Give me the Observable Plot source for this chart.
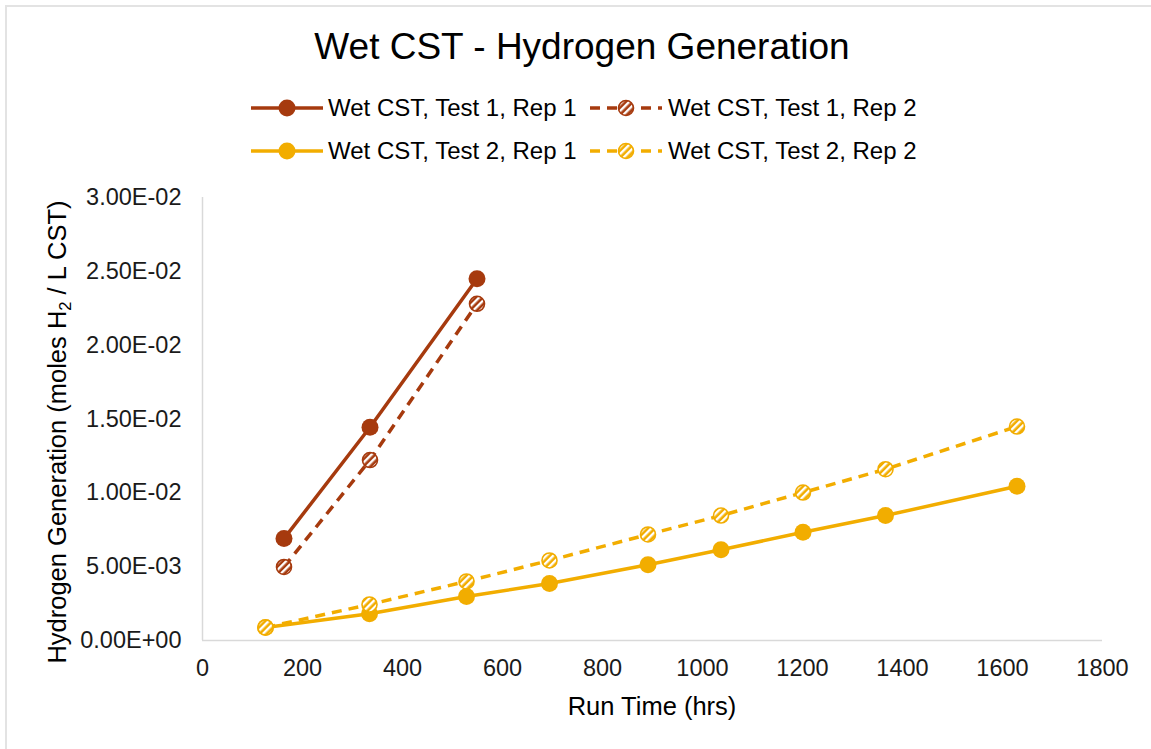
<!DOCTYPE html>
<html>
<head>
<meta charset="utf-8">
<script src="https://cdn.jsdelivr.net/npm/d3@7"></script>
<script src="https://cdn.jsdelivr.net/npm/@observablehq/plot@0.6"></script>
<style>
  html, body { margin: 0; padding: 0; background: #fff; overflow: hidden; }
  body { width: 1151px; height: 749px; position: relative; font-family: "Liberation Sans", Arial, sans-serif; color: #000; }
  #frame { position: absolute; left: 5px; top: 5px; width: 1220px; height: 820px; border: 2px solid #e3e3e3; box-sizing: border-box; }
  #title { position: absolute; left: 0; width: 1164px; top: 28px; text-align: center; font-size: 37px; line-height: 1; white-space: nowrap; }
  .leg-text { position: absolute; font-size: 24px; line-height: 1; white-space: nowrap; }
  .leg-sw { position: absolute; }
  #chart { position: absolute; left: 0; top: 180px; }
</style>
</head>
<body>
<div id="frame"></div>
<div id="title">Wet CST - Hydrogen Generation</div>
<div id="legend"></div>
<div id="chart"></div>
<script>
// ---- data ----
const seriesNames = ["Wet CST, Test 1, Rep 1", "Wet CST, Test 1, Rep 2", "Wet CST, Test 2, Rep 1", "Wet CST, Test 2, Rep 2"];
const seriesColors = ["#A63A0E", "#A63A0E", "#F2AD00", "#F2AD00"];
const seriesDashed = [false, true, false, true];

const test1Hours = [163, 335, 549];
const test1Rep1 = [0.0069, 0.01444, 0.0245];
const test1Rep2 = [0.00498, 0.01222, 0.0228];

const test2Hours = [126, 334, 528, 694, 891, 1037, 1201, 1366, 1629];
const test2Rep1 = [0.00088, 0.00181, 0.00298, 0.00386, 0.00513, 0.00614, 0.00733, 0.00846, 0.01045];
const test2Rep2 = [0.00088, 0.00244, 0.0040, 0.00542, 0.00718, 0.00846, 0.01002, 0.0116, 0.01449];

const xTicks = [0, 200, 400, 600, 800, 1000, 1200, 1400, 1600, 1800];
const yTicks = [0, 0.005, 0.01, 0.015, 0.02, 0.025, 0.03];
const yTickLabels = ["0.00E+00", "5.00E-03", "1.00E-02", "1.50E-02", "2.00E-02", "2.50E-02", "3.00E-02"];

const xTitle = "Run Time (hrs)";

// ---- build tables ----
const seriesHours = [test1Hours, test1Hours, test2Hours, test2Hours];
const seriesValues = [test1Rep1, test1Rep2, test2Rep1, test2Rep2];
const seriesRows = seriesNames.map((name, i) =>
  seriesHours[i].map((h, j) => ({series: name, hours: h, value: seriesValues[i][j]}))
);

const font = "'Liberation Sans', Arial, sans-serif";

const marks = [
  Plot.ruleY([0], {stroke: "#d9d9d9", strokeWidth: 1.5}),
  Plot.ruleX([0], {stroke: "#d9d9d9", strokeWidth: 1.5}),
  Plot.axisX({ticks: xTicks, tickSize: 0, tickPadding: 19, label: null, tickFormat: d => String(d)}),
  Plot.axisY({ticks: yTicks, tickSize: 0, tickPadding: 21, label: null, tickFormat: (d, i) => yTickLabels[yTicks.indexOf(d)]})
];
seriesRows.forEach((rows, i) => {
  const c = seriesColors[i];
  marks.push(Plot.line(rows, {
    x: "hours", y: "value", stroke: c, strokeWidth: 3.5,
    strokeDasharray: seriesDashed[i] ? "10,7" : null, strokeLinecap: "butt"
  }));
  if (seriesDashed[i]) {
    marks.push(Plot.dot(rows, {x: "hours", y: "value", r: 7.5, fill: `url(#pat${i})`, stroke: c, strokeWidth: 1.6}));
  } else {
    marks.push(Plot.dot(rows, {x: "hours", y: "value", r: 8.5, fill: c, stroke: "none"}));
  }
});

const svg = Plot.plot({
  width: 1151,
  height: 569,
  marginTop: 17,
  marginBottom: 109,
  marginLeft: 202,
  marginRight: 49,
  style: {fontFamily: font, fontSize: "23.5px", color: "#1a1a1a", background: "transparent", overflow: "visible"},
  x: {domain: [0, 1800]},
  y: {domain: [0, 0.03]},
  marks
});

// patterns for the hatched markers
const defs = d3.select(svg).insert("defs", ":first-child");
seriesColors.forEach((c, i) => {
  const p = defs.append("pattern")
    .attr("id", `pat${i}`)
    .attr("patternUnits", "userSpaceOnUse")
    .attr("width", 5).attr("height", 5)
    .attr("patternTransform", "rotate(45)");
  p.append("rect").attr("width", 5).attr("height", 5).attr("fill", c);
  p.append("rect").attr("width", 2.4).attr("height", 5).attr("fill", "#fff");
});

// axis titles
const s = d3.select(svg);
s.append("text")
  .attr("x", 652).attr("y", 526).attr("dy", "0.35em")
  .attr("text-anchor", "middle")
  .attr("font-size", "25.5px").attr("fill", "#000")
  .text(xTitle);
const yt = s.append("text")
  .attr("transform", "translate(57,252) rotate(-90)")
  .attr("dy", "0.35em")
  .attr("text-anchor", "middle")
  .attr("font-size", "25.5px").attr("fill", "#000");
yt.append("tspan").text("Hydrogen Generation (moles H");
yt.append("tspan").attr("font-size", "0.65em").attr("dy", "0.3em").text("2");
yt.append("tspan").attr("dy", "-0.2em").text(" / L CST)");

document.getElementById("chart").appendChild(svg);

// legend
const legend = d3.select("#legend");
const legPos = [
  {sx: 251, tx: 328, cy: 108},
  {sx: 590, tx: 668, cy: 108},
  {sx: 251, tx: 328, cy: 151},
  {sx: 590, tx: 668, cy: 151}
];
seriesNames.forEach((name, i) => {
  const pos = legPos[i];
  const c = seriesColors[i];
  const sw = legend.append("svg").attr("class", "leg-sw")
    .attr("width", 72).attr("height", 22)
    .style("left", pos.sx + "px").style("top", (pos.cy - 11) + "px");
  if (seriesDashed[i]) {
    const p = sw.append("defs").append("pattern")
      .attr("id", `lpat${i}`).attr("patternUnits", "userSpaceOnUse")
      .attr("width", 5).attr("height", 5).attr("patternTransform", "rotate(45)");
    p.append("rect").attr("width", 5).attr("height", 5).attr("fill", c);
    p.append("rect").attr("width", 2.4).attr("height", 5).attr("fill", "#fff");
  }
  sw.append("line").attr("x1", 0).attr("x2", 72).attr("y1", 11).attr("y2", 11)
    .attr("stroke", c).attr("stroke-width", 3.5)
    .attr("stroke-dasharray", seriesDashed[i] ? "10,7" : null);
  if (seriesDashed[i]) {
    sw.append("circle").attr("cx", 36).attr("cy", 11).attr("r", 7.5)
      .attr("fill", `url(#lpat${i})`).attr("stroke", c).attr("stroke-width", 1.6);
  } else {
    sw.append("circle").attr("cx", 36).attr("cy", 11).attr("r", 8.5).attr("fill", c);
  }
  legend.append("div").attr("class", "leg-text")
    .style("left", pos.tx + "px").style("top", (pos.cy - 12) + "px")
    .text(name);
});
</script>
</body>
</html>
